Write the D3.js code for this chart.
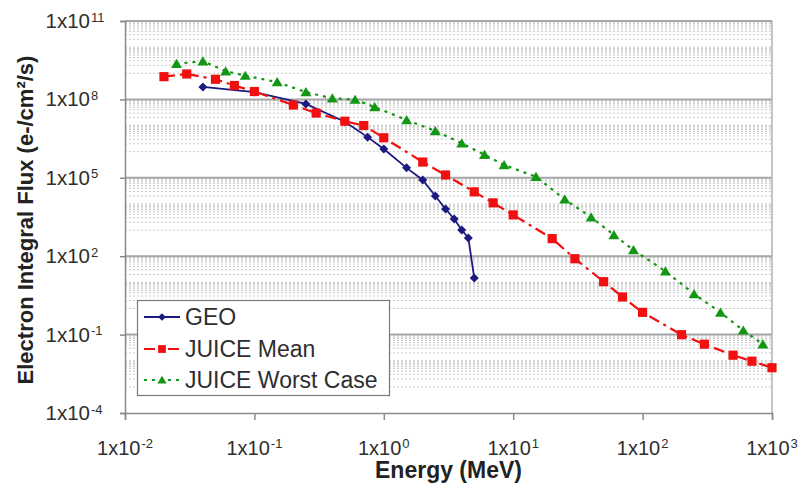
<!DOCTYPE html>
<html>
<head>
<meta charset="utf-8">
<script src="https://cdn.jsdelivr.net/npm/d3@7"></script>
<style>
  html, body { margin: 0; padding: 0; background: #fff; }
  svg { display: block; font-family: "Liberation Sans", Arial, sans-serif; }
</style>
</head>
<body>
<svg id="chart" width="805" height="485"></svg>
<script>
// Integral electron flux spectra: GEO (AE8) versus JUICE mission estimates
const energyGeo  = [0.04, 0.1, 0.25, 0.5, 0.75, 1, 1.5, 2, 2.5, 3, 3.5, 4, 4.5, 5];
const fluxGeo    = [3.0e8, 1.9e8, 6.7e7, 1.4e7, 3.6e6, 1.27e6, 2.4e5, 8.3e4, 2.0e4, 6.4e3, 2.66e3, 1.0e3, 5.0e2, 14.7];

const energyMean = [0.02, 0.03, 0.05, 0.07, 0.1, 0.2, 0.3, 0.5, 0.7, 1, 2, 3, 5, 7, 10, 20, 30, 50, 70, 100, 200, 300, 500, 700, 1000];
const fluxMean   = [7.4e8, 9.4e8, 5.9e8, 3.4e8, 2.0e8, 6.1e7, 3.0e7, 1.46e7, 1.0e7, 3.4e6, 4.0e5, 1.28e5, 2.9e4, 1.1e4, 3.8e3, 470, 80, 10.6, 2.75, 0.71, 0.099, 0.043, 0.0163, 0.0096, 0.0054];

const energyWorst = [0.025, 0.04, 0.06, 0.085, 0.15, 0.25, 0.4, 0.6, 0.85, 1.5, 2.5, 4, 6, 8.5, 15, 25, 40, 60, 85, 150, 250, 400, 600, 850];
const fluxWorst   = [2.3e9, 2.9e9, 1.2e9, 8.1e8, 4.6e8, 1.9e8, 1.1e8, 9.8e7, 5.1e7, 1.63e7, 6.2e6, 2.1e6, 7.6e5, 3.1e5, 1.1e5, 1.5e4, 3.1e3, 650, 173, 26.5, 3.6, 0.70, 0.145, 0.043];

const seriesNames = ["GEO", "JUICE Mean", "JUICE Worst Case"];
const xTickExps = [-2, -1, 0, 1, 2, 3];
const yTickExps = [-4, -1, 2, 5, 8, 11];
const xTitle = "Energy (MeV)";
const yTitle = "Electron Integral Flux (e-/cm²/s)";

const svg = d3.select("#chart");
const plot = { left: 125, right: 772, top: 21, bottom: 413 };

const x = d3.scaleLog().domain([1e-2, 1e3]).range([plot.left, plot.right]);
const y = d3.scaleLog().domain([1e-4, 1e11]).range([plot.bottom, plot.top]);

svg.append("rect").attr("width", 805).attr("height", 485).attr("fill", "#fff");

// minor dotted gridlines: 1..9 x 10^(k+1) and 1..9 x 10^(k+2) inside each three-decade band
const minorVals = [];
yTickExps.slice(0, -1).forEach(e => {
  for (let d = 1; d <= 2; d++) {
    for (let m = 1; m <= 9; m++) minorVals.push(m * Math.pow(10, e + d));
  }
});
svg.append("g")
  .selectAll("line").data(minorVals).join("line")
  .attr("x1", plot.left).attr("x2", plot.right)
  .attr("y1", d => y(d)).attr("y2", d => y(d))
  .attr("stroke", "#c8c8c8").attr("stroke-width", 1)
  .attr("stroke-dasharray", "2,2");

// major gridlines every three decades
const majorVals = yTickExps.map(e => Math.pow(10, e));
svg.append("g")
  .selectAll("line").data(majorVals.slice(1)).join("line")
  .attr("x1", plot.left).attr("x2", plot.right)
  .attr("y1", d => y(d)).attr("y2", d => y(d))
  .attr("stroke", "#a6a6a6").attr("stroke-width", 2);

// right border of the plot area
svg.append("line")
  .attr("x1", plot.right).attr("x2", plot.right)
  .attr("y1", plot.top).attr("y2", plot.bottom)
  .attr("stroke", "#b0b0b0").attr("stroke-width", 1.5);

// axes
const xAxis = d3.axisBottom(x).tickValues(xTickExps.map(e => Math.pow(10, e))).tickSize(7).tickFormat("");
const yAxis = d3.axisLeft(y).tickValues(majorVals).tickSize(5).tickFormat("");
const gx = svg.append("g").attr("transform", `translate(0,${plot.bottom})`).call(xAxis);
const gy = svg.append("g").attr("transform", `translate(${plot.left},0)`).call(yAxis);
[gx, gy].forEach(g => {
  g.select(".domain").attr("stroke", "#8a8a8a").attr("stroke-width", 1.5);
  g.selectAll(".tick line").attr("stroke", "#8a8a8a").attr("stroke-width", 1.5);
});

// tick labels of the form 1x10^n
const labelColor = "#2e2e2e";
yTickExps.forEach(e => {
  const yy = y(Math.pow(10, e));
  svg.append("text")
    .attr("x", 90).attr("y", yy + 7)
    .attr("text-anchor", "end")
    .attr("font-size", 20.5).attr("fill", labelColor)
    .text("1x10");
  svg.append("text")
    .attr("x", 91).attr("y", yy + 0.5)
    .attr("font-size", 13).attr("fill", labelColor)
    .text(String(e));
});
xTickExps.forEach(e => {
  const xx = x(Math.pow(10, e));
  const g = svg.append("g");
  const main = g.append("text").attr("y", 455).attr("font-size", 20).attr("fill", labelColor).text("1x10");
  const sup = g.append("text").attr("y", 448).attr("font-size", 13).attr("fill", labelColor).text(String(e));
  const w1 = main.node().getComputedTextLength();
  const w2 = sup.node().getComputedTextLength();
  const start = xx - (w1 + 1 + w2) / 2;
  main.attr("x", start);
  sup.attr("x", start + w1 + 1);
});

// axis titles
svg.append("text")
  .attr("x", (plot.left + plot.right) / 2).attr("y", 478)
  .attr("text-anchor", "middle")
  .attr("font-size", 23).attr("font-weight", "bold").attr("fill", "#222")
  .text(xTitle);
svg.append("text")
  .attr("transform", `translate(33,${(plot.top + plot.bottom) / 2 + 3}) rotate(-90)`)
  .attr("text-anchor", "middle")
  .attr("font-size", 22).attr("font-weight", "bold").attr("fill", "#222")
  .text(yTitle);

// marker shapes
const markers = {
  diamond: "M0,-4.5L4.5,0L0,4.5L-4.5,0Z",
  square: "M-4.6,-4.6H4.6V4.6H-4.6Z",
  triangle: "M0,-5L5.5,4.2L-5.5,4.2Z"
};

const series = [
  { name: seriesNames[0], xs: energyGeo, ys: fluxGeo, color: "#1a1a80", dash: null, width: 1.8, marker: markers.diamond },
  { name: seriesNames[1], xs: energyMean, ys: fluxMean, color: "#f01010", dash: "11,5,3,5", width: 2.2, marker: markers.square },
  { name: seriesNames[2], xs: energyWorst, ys: fluxWorst, color: "#139613", dash: "3,5", width: 2.2, marker: markers.triangle }
];

const line = d3.line().x(d => x(d[0])).y(d => y(d[1]));

series.forEach(s => {
  const pts = s.xs.map((e, i) => [e, s.ys[i]]);
  const g = svg.append("g");
  g.append("path")
    .attr("d", line(pts))
    .attr("fill", "none")
    .attr("stroke", s.color)
    .attr("stroke-width", s.width)
    .attr("stroke-dasharray", s.dash);
  g.selectAll("path.mk").data(pts).join("path")
    .attr("class", "mk")
    .attr("d", s.marker)
    .attr("transform", d => `translate(${x(d[0])},${y(d[1])})`)
    .attr("fill", s.color);
});

// legend
const legend = svg.append("g");
legend.append("rect")
  .attr("x", 137.5).attr("y", 300.5).attr("width", 252).attr("height", 95)
  .attr("fill", "#fff").attr("stroke", "#7a7a7a").attr("stroke-width", 1.2);
const legendY = [317, 349, 380];
series.forEach((s, i) => {
  const ly = legendY[i];
  legend.append("line")
    .attr("x1", 144).attr("x2", 180).attr("y1", ly).attr("y2", ly)
    .attr("stroke", s.color).attr("stroke-width", s.width)
    .attr("stroke-dasharray", s.dash);
  legend.append("path")
    .attr("d", s.marker)
    .attr("transform", `translate(162,${ly}) scale(0.85)`)
    .attr("fill", s.color);
  legend.append("text")
    .attr("x", 185).attr("y", ly + 8)
    .attr("font-size", 23).attr("fill", "#2e2e2e")
    .text(s.name);
});
</script>
</body>
</html>
